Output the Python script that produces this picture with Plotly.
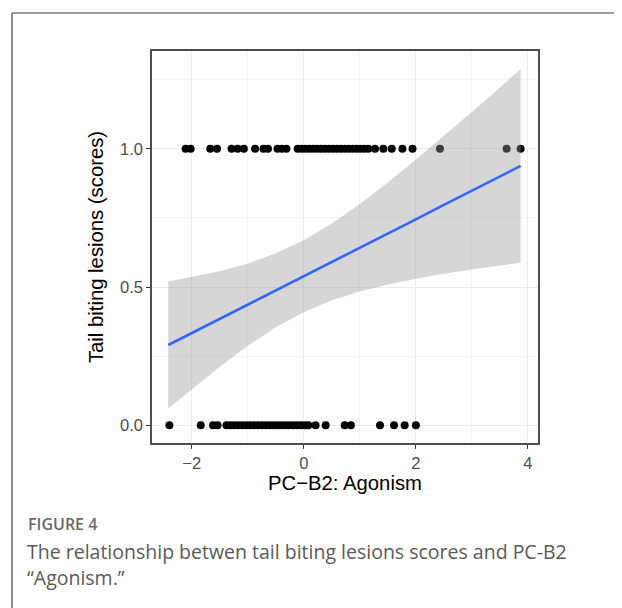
import plotly.graph_objects as go

# Observed points (PC-B2 score, lesion score)
top_x = [-2.11, -2.02, -1.67, -1.55, -1.29, -1.18, -1.07, -0.87, -0.72, -0.64,
         -0.47, -0.39, -0.31, -0.11, -0.04, 0.03, 0.10, 0.17, 0.24, 0.31, 0.38,
         0.45, 0.52, 0.59, 0.66, 0.73, 0.80, 0.87, 0.94, 1.01, 1.08, 1.15,
         1.27, 1.42, 1.57, 1.76, 1.94, 2.43, 3.62, 3.87]
bottom_x = [-2.40, -1.84, -1.62, -1.54, -1.38, -1.31, -1.24, -1.17, -1.10, -1.03,
            -0.96, -0.89, -0.82, -0.75, -0.68, -0.61, -0.54, -0.47, -0.40, -0.33,
            -0.26, -0.19, -0.12, -0.05, 0.02, 0.08, 0.21, 0.39, 0.73, 0.84,
            1.36, 1.61, 1.80, 2.00]

# Smooth (lm) fit and its confidence band
fit_x = [-2.42, -2.0, -1.5, -1.0, -0.5, 0.0, 0.5, 1.0, 1.5, 2.0, 2.5, 3.0, 3.5, 3.87]
fit_y = [0.290, 0.333, 0.384, 0.436, 0.488, 0.539, 0.591, 0.642, 0.694, 0.745, 0.797, 0.848, 0.900, 0.938]
fit_lo = [0.060, 0.130, 0.211, 0.287, 0.354, 0.409, 0.452, 0.484, 0.509, 0.530, 0.548, 0.563, 0.578, 0.588]
fit_hi = [0.520, 0.536, 0.557, 0.585, 0.622, 0.669, 0.730, 0.800, 0.878, 0.961, 1.046, 1.133, 1.222, 1.288]

x_ticks = [-2, 0, 2, 4]
y_ticks = [0.0, 0.5, 1.0]

pts_x = top_x + bottom_x
pts_y = [1.0] * len(top_x) + [0.0] * len(bottom_x)

fig = go.Figure()
fig.add_trace(go.Scatter(x=pts_x, y=pts_y, mode="markers",
                         marker=dict(color="black", size=8, line=dict(width=0)),
                         showlegend=False, hoverinfo="x+y"))
fig.add_trace(go.Scatter(x=fit_x + fit_x[::-1], y=fit_hi + fit_lo[::-1],
                         mode="lines", fill="toself",
                         fillcolor="rgba(153,153,153,0.4)", line=dict(width=0),
                         showlegend=False, hoverinfo="skip"))
fig.add_trace(go.Scatter(x=fit_x, y=fit_y, mode="lines",
                         line=dict(color="#3366FF", width=2.6),
                         showlegend=False))

# page body has an 8px margin: work in page pixels and shift
OFF = 8
W, H = 614, 600
L, T = 152 - OFF, 51 - OFF
R = W - (538 - OFF)
B = H - (443 - OFF)
pw, ph = W - L - R, H - T - B

def px(X):
    return (X - OFF - L) / pw

def py(Y):
    return (H - B - (Y - OFF)) / ph

axis_common = dict(
    showline=True, mirror=True, linecolor="#4D4D4D", linewidth=1.5,
    ticks="outside", ticklen=4, tickcolor="#333333", tickwidth=1,
    showgrid=True, gridcolor="#EBEBEB", gridwidth=1.1,
    zeroline=False,
    tickfont=dict(family="Liberation Sans, Arial", size=16.5, color="#4D4D4D"),
)
title_font = dict(family="Liberation Sans, Arial", size=20.3, color="black")

fig.update_layout(
    width=W, height=H,
    margin=dict(l=L, r=R, t=T, b=B),
    paper_bgcolor="white", plot_bgcolor="white",
    xaxis=dict(range=[-2.71, 4.18], tickvals=x_ticks,
               minor=dict(dtick=1, tick0=1, showgrid=True, gridcolor="#F4F4F4", gridwidth=0.6, ticks=""),
               title=dict(text="PC\u2212B2: Agonism", standoff=3, font=title_font),
               **axis_common),
    yaxis=dict(range=[-0.0645, 1.354], tickvals=y_ticks, tickformat=".1f",
               minor=dict(dtick=0.25, tick0=0.25, showgrid=True, gridcolor="#F4F4F4", gridwidth=0.6, ticks=""),
               title=dict(text="Tail biting lesions (scores)", standoff=11, font=title_font),
               **axis_common),
    shapes=[
        dict(type="line", xref="paper", yref="paper", x0=px(12), x1=px(640), y0=py(13), y1=py(13),
             line=dict(color="#444444", width=1.2)),
        dict(type="line", xref="paper", yref="paper", x0=px(12), x1=px(12), y0=py(13), y1=py(630),
             line=dict(color="#444444", width=1.2)),
    ],
    annotations=[
        dict(text="FIGURE 4", xref="paper", yref="paper", x=px(26), y=py(524),
             xanchor="left", yanchor="middle", showarrow=False,
             font=dict(family="Open Sans", size=16, weight=600, color="#6A6A6A")),
        dict(text="The relationship betwen tail biting lesions scores and PC-B2",
             xref="paper", yref="paper", x=px(25), y=py(551),
             xanchor="left", yanchor="middle", showarrow=False,
             font=dict(family="Open Sans", size=19.5, color="#5A5A5A")),
        dict(text="\u201cAgonism.\u201d",
             xref="paper", yref="paper", x=px(25), y=py(577),
             xanchor="left", yanchor="middle", showarrow=False,
             font=dict(family="Open Sans", size=19.5, color="#5A5A5A")),
    ],
)

fig.write_html("out.html")
